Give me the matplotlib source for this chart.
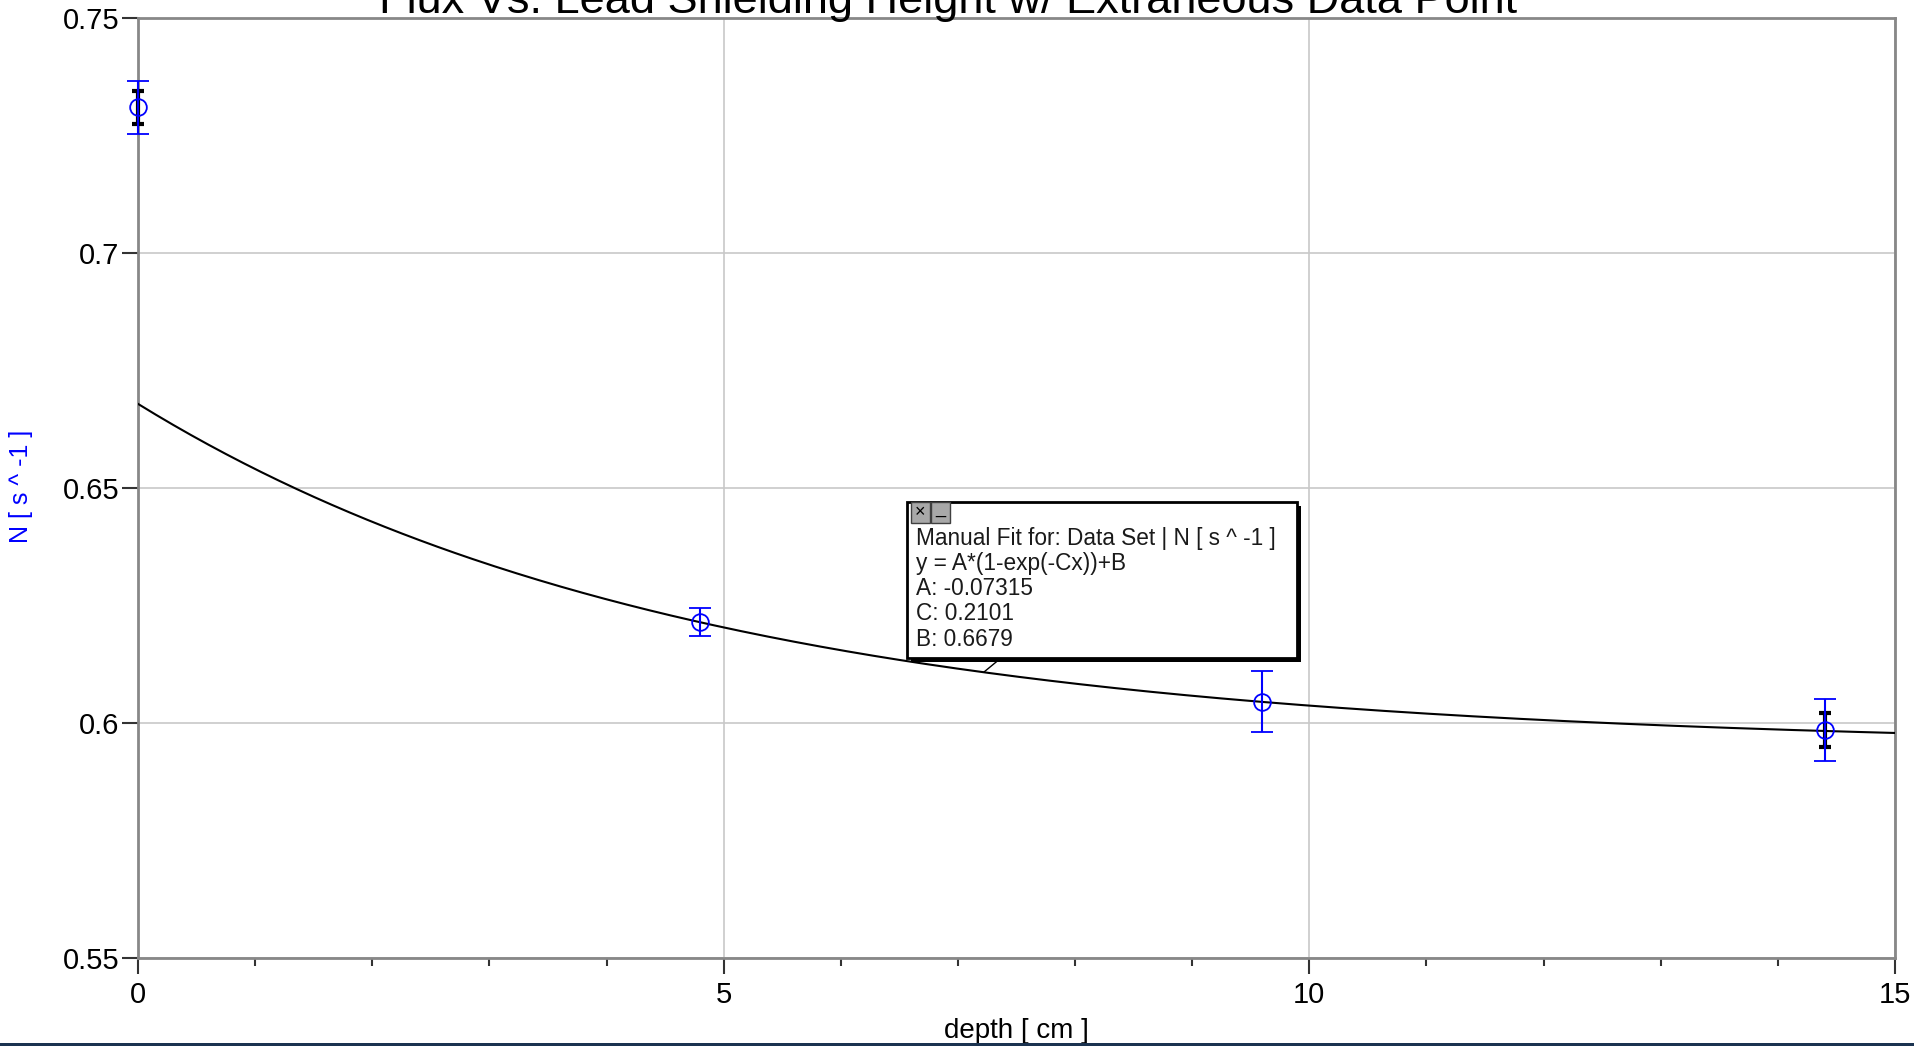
import numpy as np
import matplotlib
matplotlib.use('Agg')
import matplotlib.pyplot as plt
from matplotlib.patches import Rectangle

plt.rcParams['font.family'] = ['Liberation Sans', 'DejaVu Sans']

# measured data: depth [cm], flux N [1/s], uncertainties
depth = [0.0, 4.8, 9.6, 14.4]
flux = [0.731, 0.6215, 0.6045, 0.5985]
flux_err = [0.0056, 0.003, 0.0065, 0.0066]

# second (black) error bars shown on first and last point
depth_b = [0.0, 14.4]
flux_b = [0.731, 0.5985]
flux_b_err = [0.0035, 0.0036]

# manual fit parameters  y = A*(1-exp(-Cx))+B
fit_A = -0.07315
fit_C = 0.2101
fit_B = 0.6679

fit_text = ("Manual Fit for: Data Set | N [ s ^ -1 ]\n"
            "y = A*(1-exp(-Cx))+B\n"
            "A: -0.07315\n"
            "C: 0.2101\n"
            "B: 0.6679")

W, H = 1915, 1046
fig = plt.figure(figsize=(W / 100, H / 100), dpi=100)
ax = fig.add_axes([138 / W, 1 - 958 / H, (1895 - 138) / W, (958 - 18) / H])

xs = np.linspace(0, 15, 400)
ax.plot(xs, fit_A * (1 - np.exp(-fit_C * xs)) + fit_B, color='black', lw=1.5, zorder=3)

ax.errorbar(depth_b, flux_b, yerr=flux_b_err, fmt='none', ecolor='black',
            elinewidth=3, capsize=4.5, capthick=3, zorder=4, clip_on=False)
ax.errorbar(depth, flux, yerr=flux_err, fmt='o', mfc='none', mec='#0000ff',
            ms=12, mew=1.3, ecolor='#0000ff', elinewidth=1.5, capsize=8,
            capthick=1.5, zorder=5, clip_on=False)

ax.set_xlim(0, 15)
ax.set_ylim(0.55, 0.75)
ax.set_xticks([0, 5, 10, 15])
ax.set_xticks(np.arange(0, 16, 1), minor=True)
ax.set_yticks([0.55, 0.6, 0.65, 0.7, 0.75])
ax.set_yticklabels(['0.55', '0.6', '0.65', '0.7', '0.75'])
ax.grid(True, which='major', color='#c8c8c8', lw=1.2)
ax.set_axisbelow(True)
ax.tick_params(axis='both', which='major', labelsize=21, length=11.5, width=1.5,
               color='#333333', direction='out')
ax.tick_params(axis='x', which='major', pad=5)
ax.tick_params(axis='y', which='major', pad=2)
ax.tick_params(axis='x', which='minor', length=5.5, width=1.5, color='#333333')
for sp in ax.spines.values():
    sp.set_color('#888888')
    sp.set_linewidth(2)

ax.set_xlabel('depth [ cm ]', fontsize=20, labelpad=6.5)
fig.text(21 / W, 1 - 486 / H, 'N [ s ^ -1 ]', rotation=90, color='#0000ff',
         fontsize=18, ha='center', va='center')

fig.text(948 / W, 1 - 13 / H, 'Flux Vs. Lead Shielding Height w/ Extraneous Data Point',
         fontsize=32.5, ha='center', va='baseline')

# fit annotation box
bx0, bx1 = (907 - 138) / 1757, (1297 - 138) / 1757
by0, by1 = (958 - 658) / 940, (958 - 502) / 940
ax.add_patch(Rectangle((bx0 + 0.002, by0 - 0.004), bx1 - bx0, by1 - by0,
                       transform=ax.transAxes, facecolor='black', edgecolor='none', zorder=6))
ax.add_patch(Rectangle((bx0, by0), bx1 - bx0, by1 - by0, transform=ax.transAxes,
                       facecolor='white', edgecolor='black', lw=2, zorder=7))
bw = 19 / 1757
bh = 21 / 940
for i, sym in enumerate(['×', '_']):
    ax.add_patch(Rectangle((bx0 + 0.002 + i * (bw + 0.001), by1 - bh), bw, bh,
                           transform=ax.transAxes, facecolor='#a8a8a8',
                           edgecolor='#404040', lw=1, zorder=8))
    ax.text(bx0 + 0.002 + i * (bw + 0.001) + bw / 2, by1 - bh / 2 + (0.004 if i else 0), sym,
            transform=ax.transAxes, ha='center', va='center', fontsize=13, zorder=9)
ax.text((916 - 138) / 1757, (958 - 527) / 940, fit_text, transform=ax.transAxes,
        fontsize=16.3, ha='left', va='top', linespacing=1.12, color='#1a1a1a', zorder=9)

lead_x = 7.22
ax.annotate('', xy=(lead_x, fit_A * (1 - np.exp(-fit_C * lead_x)) + fit_B),
            xytext=((1001 - 138) / 1757, by0), textcoords='axes fraction',
            arrowprops=dict(arrowstyle='-', color='black', lw=1, shrinkA=0, shrinkB=0),
            zorder=6)

# dark strip at the very bottom of the screenshot
fig.add_artist(Rectangle((0, 0), 1, 3 / H, transform=fig.transFigure,
                         facecolor='#1b3350', edgecolor='none'))

fig.savefig('out.png', dpi=100)
